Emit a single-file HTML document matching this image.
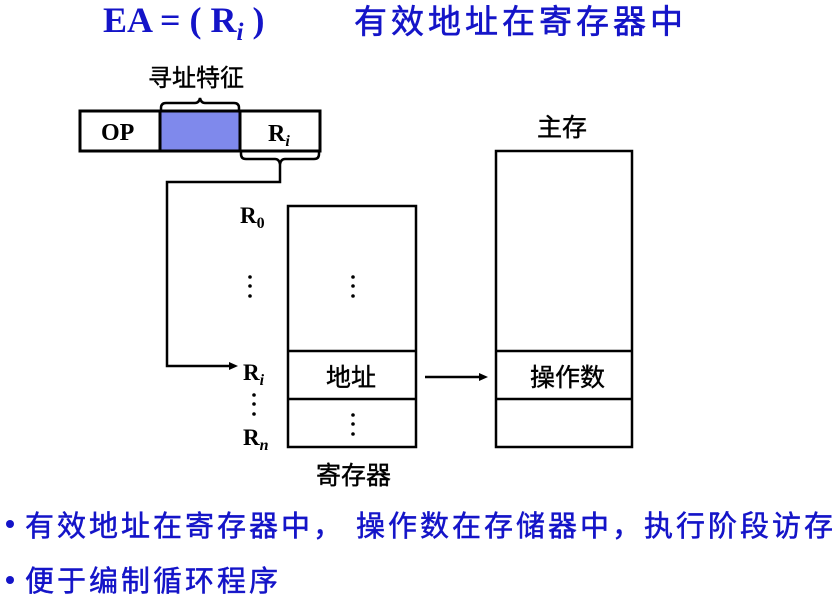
<!DOCTYPE html>
<html><head><meta charset="utf-8"><style>
html,body{margin:0;padding:0;background:#fff;}
svg{display:block;}
.cj{font-family:"Liberation Sans","Noto Sans CJK SC",sans-serif;}
.tm{font-family:"Liberation Serif",serif;font-weight:bold;}
</style></head><body>
<svg width="836" height="604" viewBox="0 0 836 604" xmlns="http://www.w3.org/2000/svg">
<!-- title -->
<text x="103" y="32" class="tm" font-size="36" fill="#1414c8">EA = ( R<tspan font-style="italic" font-size="25" dy="8">i</tspan><tspan dy="-8"> )</tspan></text>
<text x="354" y="33" class="cj" font-size="33" fill="#1414c8" letter-spacing="4" stroke="#1414c8" stroke-width="0.6">有效地址在寄存器中</text>
<!-- instruction -->
<text x="148" y="86" class="cj" font-size="24" fill="#000" stroke="#000" stroke-width="0.4">寻址特征</text>
<rect x="80" y="111" width="240" height="40" fill="#fff" stroke="#000" stroke-width="3"/>
<rect x="160" y="111" width="80" height="40" fill="#7f89ec" stroke="#000" stroke-width="3"/>
<text x="101" y="140" class="tm" font-size="24">OP</text>
<text x="268" y="141" class="tm" font-size="24">R<tspan font-style="italic" font-size="16" dy="5">i</tspan></text>
<!-- upper brace -->
<path d="M161,111 V108 Q161,103 166,103 H195 Q199,103 200,98 Q201,103 205,103 H234 Q239,103 239,108 V111" fill="none" stroke="#000" stroke-width="2.5"/>
<!-- lower brace -->
<path d="M241,151 V154 Q241,159 246,159 H275 Q279,159 280,164 Q281,159 285,159 H314 Q319,159 319,154 V151" fill="none" stroke="#000" stroke-width="2.5"/>
<path d="M280,163 V182 H167 V366 H232" fill="none" stroke="#000" stroke-width="2.5"/>
<polygon points="238,366 229,362 229,370" fill="#000"/>
<!-- registers -->
<rect x="288" y="206" width="128" height="241" fill="none" stroke="#000" stroke-width="2.5"/>
<line x1="288" y1="351" x2="416" y2="351" stroke="#000" stroke-width="2.5"/>
<line x1="288" y1="399" x2="416" y2="399" stroke="#000" stroke-width="2.5"/>
<text x="326" y="386" class="cj" font-size="25" stroke="#000" stroke-width="0.4">地址</text>
<text x="316" y="484" class="cj" font-size="25" stroke="#000" stroke-width="0.4">寄存器</text>
<g fill="#000">
<circle cx="353" cy="277" r="1.8"/><circle cx="353" cy="286" r="1.8"/><circle cx="353" cy="296" r="1.8"/>
<circle cx="353" cy="415" r="1.8"/><circle cx="353" cy="424" r="1.8"/><circle cx="353" cy="434" r="1.8"/>
<circle cx="250" cy="277" r="1.8"/><circle cx="250" cy="286" r="1.8"/><circle cx="250" cy="296" r="1.8"/>
<circle cx="254" cy="395" r="1.8"/><circle cx="254" cy="404" r="1.8"/><circle cx="254" cy="414" r="1.8"/>
</g>
<text x="240" y="223" class="tm" font-size="23">R<tspan font-size="16" dy="5">0</tspan></text>
<text x="243" y="380" class="tm" font-size="23">R<tspan font-style="italic" font-size="16" dy="5">i</tspan></text>
<text x="243" y="445" class="tm" font-size="23">R<tspan font-style="italic" font-size="16" dy="5">n</tspan></text>
<!-- arrow -->
<line x1="425" y1="377" x2="482" y2="377" stroke="#000" stroke-width="2.5"/>
<polygon points="488,377 479,373 479,381" fill="#000"/>
<!-- memory -->
<text x="537" y="136" class="cj" font-size="25" stroke="#000" stroke-width="0.4">主存</text>
<rect x="496" y="151" width="136" height="296" fill="none" stroke="#000" stroke-width="2.5"/>
<line x1="496" y1="351" x2="632" y2="351" stroke="#000" stroke-width="2.5"/>
<line x1="496" y1="399" x2="632" y2="399" stroke="#000" stroke-width="2.5"/>
<text x="530" y="386" class="cj" font-size="25" stroke="#000" stroke-width="0.4">操作数</text>
<!-- bullets -->
<circle cx="10" cy="524" r="4" fill="#1414c8"/>
<circle cx="10" cy="580" r="4" fill="#1414c8"/>
<text x="25" y="536" class="cj" font-size="29" fill="#1414c8" letter-spacing="3" stroke="#1414c8" stroke-width="0.5">有效地址在寄存器中， 操作数在存储器中，执行阶段访存</text>
<text x="25" y="591" class="cj" font-size="29" fill="#1414c8" letter-spacing="3" stroke="#1414c8" stroke-width="0.5">便于编制循环程序</text>
</svg>
</body></html>
